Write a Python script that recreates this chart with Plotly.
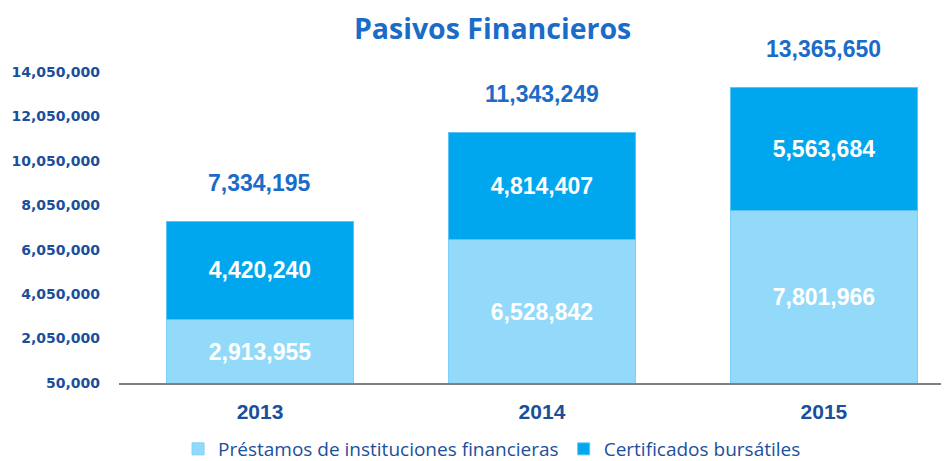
import plotly.graph_objects as go

years = ["2013", "2014", "2015"]
prestamos = [2913955, 6528842, 7801966]
certificados = [4420240, 4814407, 5563684]
totales = [7334195, 11343249, 13365650]
tick_vals = [50000, 2050000, 4050000, 6050000, 8050000, 10050000, 12050000, 14050000]
tick_text = ["50,000", "2,050,000", "4,050,000", "6,050,000", "8,050,000", "10,050,000", "12,050,000", "14,050,000"]

LIGHT = "#93DAFA"
DARK = "#00A6EE"
NAVY = "#1B4F9C"
TITLE_BLUE = "#1A6CC8"
LABEL_FONT = "Liberation Sans, Arial"

fig = go.Figure()
fig.add_trace(go.Bar(
    x=years, y=prestamos, name="Préstamos de instituciones financieras",
    marker=dict(color=LIGHT, line=dict(color="#7CD0F7", width=1)),
    width=0.665,
    text=[f"{v:,}" for v in prestamos], textposition="inside", insidetextanchor="middle",
    textfont=dict(family=LABEL_FONT, size=23, color="white", weight="bold"),
))
fig.add_trace(go.Bar(
    x=years, y=certificados, name="Certificados bursátiles",
    marker=dict(color=DARK, line=dict(color="#5CC4F5", width=1)),
    width=0.665,
    text=[f"{v:,}" for v in certificados], textposition="inside", insidetextanchor="middle",
    textfont=dict(family=LABEL_FONT, size=23, color="white", weight="bold"),
))

for i, tot in enumerate(totales):
    fig.add_annotation(x=i, y=tot, xref="x", yref="y", text=f"<b>{tot:,}</b>", showarrow=False,
                       yshift=38, font=dict(family=LABEL_FONT, size=23, color=TITLE_BLUE))

fig.update_layout(
    width=941, height=453,
    barmode="stack",
    margin=dict(l=111, r=1, t=22, b=78, autoexpand=False),
    plot_bgcolor="white", paper_bgcolor="white",
    title=dict(text="<b>Pasivos Financieros</b>", x=0.515, xanchor="center", y=0.954, yanchor="middle",
               font=dict(family="Open Sans, Noto Sans", size=28.5, color=TITLE_BLUE)),
    xaxis=dict(type="category", range=[-0.5, 2.44], showline=True, linecolor="#808080", linewidth=2,
               ticks="", tickfont=dict(family=LABEL_FONT, size=21, color=NAVY, weight="bold"),
               showgrid=False, ticklabelstandoff=9, automargin=False),
    yaxis=dict(range=[50000, 15941000], tickvals=tick_vals, ticktext=tick_text, showgrid=False,
               zeroline=False, showline=False, ticks="", ticklabelstandoff=18, automargin=False,
               tickfont=dict(family="DejaVu Sans, Verdana", size=14, color=NAVY, weight="bold")),
    legend=dict(orientation="h", x=0.45, xanchor="center", y=-0.187, yanchor="middle",
                font=dict(family="Open Sans, Noto Sans", size=19, color=NAVY),
                itemwidth=30, traceorder="normal"),
    bargap=0.335,
    showlegend=True,
)
fig.write_html("out.html")
